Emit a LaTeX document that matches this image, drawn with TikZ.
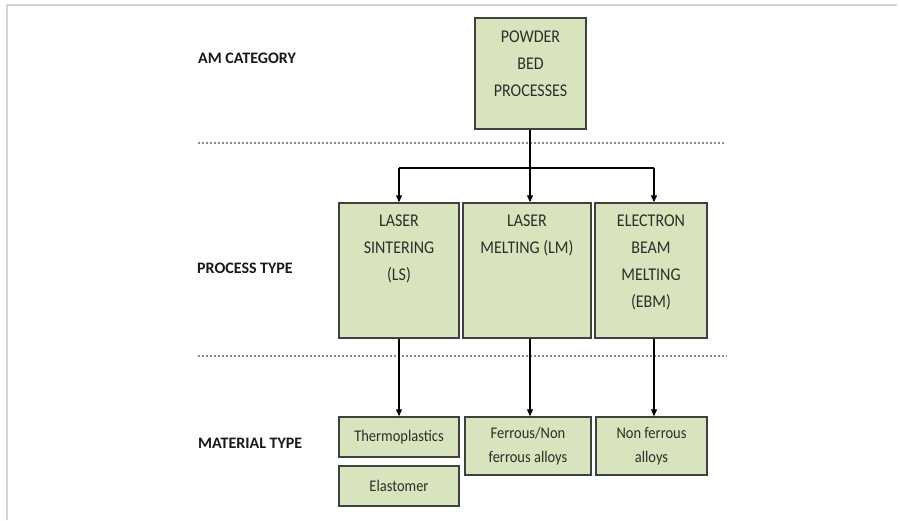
\documentclass[tikz,border=0pt]{standalone}
\usepackage{graphicx}
\usepackage{fontspec}
\setmainfont{Carlito}
\usetikzlibrary{arrows.meta}
\definecolor{boxfill}{HTML}{D7E4BD}
\definecolor{boxline}{HTML}{404040}
\definecolor{txt}{HTML}{2E2E2A}
\definecolor{sep}{HTML}{8A8A8A}
\definecolor{frame}{HTML}{D4D4D4}
\newcommand\vst[1]{\scalebox{1}[1.12]{#1}}
\tikzset{
  gbox/.style={draw=boxline, line width=1.5pt, fill=boxfill, rectangle, inner sep=0pt},
  boxtext/.style={text=txt, align=center, anchor=north, inner sep=0pt, font=\fontsize{16}{27}\selectfont},
  mattext/.style={text=txt, align=center, font=\fontsize{14.5}{24}\selectfont},
  rowlabel/.style={anchor=west, inner sep=0pt, text=black!90, font=\fontsize{16}{18}\selectfont\bfseries},
  sepline/.style={draw=sep, line width=1.8pt, dash pattern=on 2pt off 2pt},
  conn/.style={draw=black, line width=1.3pt},
  arr/.style={conn, -{Triangle[length=7pt,width=6pt]}}
}
\begin{document}
\begin{tikzpicture}[x=1pt,y=-1pt]
\useasboundingbox (0,0) rectangle (899,520);
\fill[white] (0,0) rectangle (899,520);
% frame
\draw[frame, line width=2pt] (7,520) -- (7,5) -- (897,5);
% separators
\coordinate (s1a) at (198,143); \coordinate (s1b) at (724,143);
\coordinate (s2a) at (198,356); \coordinate (s2b) at (727,356);
\draw[sepline] (s1a) -- (s1b);
\draw[sepline] (s2a) -- (s2b);
% row labels
\node[rowlabel] (lab1) at (198,58) {AM CATEGORY};
\node[rowlabel] (lab2) at (197,268) {PROCESS TYPE};
\node[rowlabel] (lab3) at (198,443) {MATERIAL TYPE};
% boxes
\node[gbox, minimum width=111pt, minimum height=111pt] (pbp) at (530.5,73.5) {};
\node[gbox, minimum width=120pt, minimum height=135pt] (ls) at (399,270.5) {};
\node[gbox, minimum width=128pt, minimum height=135pt] (lm) at (527,270.5) {};
\node[gbox, minimum width=112pt, minimum height=135pt] (ebm) at (651,270.5) {};
\node[boxtext] (pbpt) at ([yshift=-13pt]pbp.north) {\vst{POWDER}\\\vst{BED}\\\vst{PROCESSES}};
\node[boxtext] (lst) at ([yshift=-12pt]ls.north) {\vst{LASER}\\\vst{SINTERING}\\\vst{(LS)}};
\node[boxtext] (lmt) at ([yshift=-12pt]lm.north) {\vst{LASER}\\\vst{MELTING (LM)}};
\node[boxtext] (ebmt) at ([yshift=-12pt]ebm.north) {\vst{ELECTRON}\\\vst{BEAM}\\\vst{MELTING}\\\vst{(EBM)}};
\node[gbox, minimum width=120pt, minimum height=40pt] (th) at (399,437) {};
\node[gbox, minimum width=120pt, minimum height=40pt] (el) at (399,486) {};
\node[gbox, minimum width=126pt, minimum height=58pt] (fe) at (528,446) {};
\node[gbox, minimum width=111pt, minimum height=58pt] (nf) at (651.5,446) {};
\node[mattext] (tht) at (th.center) {\vst{Thermoplastics}};
\node[mattext] (elt) at (el.center) {\vst{Elastomer}};
\node[mattext] (fet) at (fe.center) {\vst{Ferrous/Non}\\\vst{ferrous alloys}};
\node[mattext] (nft) at (nf.center) {\vst{Non ferrous}\\\vst{alloys}};
% connectors
\coordinate (bar) at (530,168);
\coordinate (barl) at (ls.north |- bar);
\coordinate (barr) at (654,168);
\draw[conn] (pbp.south -| bar) -- (bar);
\draw[conn] (barl) -- (barr);
\draw[arr] (barl) -- (ls.north);
\draw[arr] (bar) -- (bar |- lm.north);
\draw[arr] (barr) -- (barr |- ebm.north);
\draw[arr] (ls.south) -- (th.north);
\draw[arr] (bar |- lm.south) -- (bar |- fe.north);
\draw[arr] (barr |- ebm.south) -- (barr |- nf.north);
\end{tikzpicture}
\end{document}
